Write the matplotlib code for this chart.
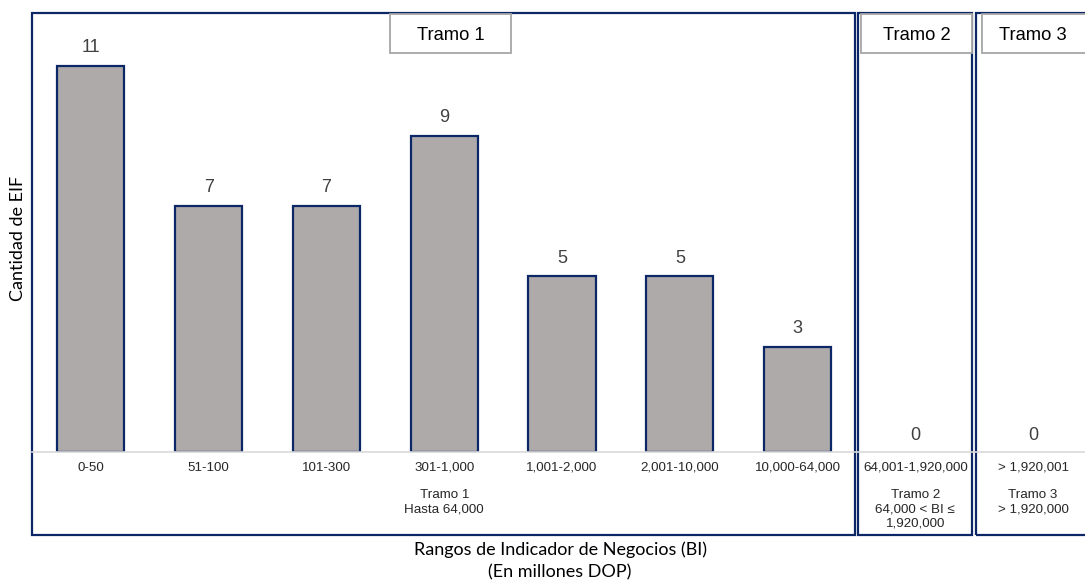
import matplotlib.pyplot as plt
from matplotlib.patches import Rectangle
import matplotlib.transforms as mtransforms
import numpy as np

# conteo de entidades por rango del indicador de negocios
rangos = ["0-50", "51-100", "101-300", "301-1,000", "1,001-2,000",
          "2,001-10,000", "10,000-64,000", "64,001-1,920,000", "> 1,920,001"]
cantidad = [11, 7, 7, 9, 5, 5, 3, 0, 0]

tramos = ["Tramo 1", "Tramo 2", "Tramo 3"]
tramo_desc = ["Tramo 1\nHasta 64,000",
              "Tramo 2\n64,000 < BI \u2264\n1,920,000",
              "Tramo 3\n> 1,920,000"]
desc_pos = [3, 7, 8]

navy = "#0B2766"
barra = "#AEAAAA"
W, H = 1085, 581

plt.rcParams['font.family'] = ['Liberation Sans', 'DejaVu Sans']
fig = plt.figure(figsize=(W / 100, H / 100), dpi=100)
ax = fig.add_axes([32 / W, (H - 452) / H, (W - 32) / W, (452 - 13) / H])

x = np.arange(len(rangos))
bars = ax.bar(x, cantidad, width=0.57, color=barra, edgecolor=navy, linewidth=1.6)
for b, v in zip(bars, cantidad):
    if v == 0:
        b.set_linewidth(0)
    ax.annotate(str(v), (b.get_x() + b.get_width() / 2, v),
                xytext=(0, 7 if v else 6), textcoords="offset points",
                ha="center", va="bottom", fontsize=13, color="#404040")

ax.set_xlim(-0.5, 8.44)
ax.set_ylim(0, 12.5)
ax.set_yticks([])
ax.set_xticks(x)
ax.set_xticklabels(rangos, fontsize=9.6, color="#262626")
ax.tick_params(axis="x", length=0, pad=7)
for s in ["left", "right", "top"]:
    ax.spines[s].set_visible(False)
ax.spines["bottom"].set_color("#D9D9D9")
ax.spines["bottom"].set_linewidth(1.2)

# marcos de cada tramo
trans = mtransforms.blended_transform_factory(ax.transData, ax.transAxes)
y_bot = (452 - 535) / (452 - 13)
marcos = [(-0.5, 6.49), (6.515, 7.48), (7.515, 9.5)]
for (x0, x1), desc, pos in zip(marcos, tramo_desc, desc_pos):
    ax.add_patch(Rectangle((x0, y_bot), x1 - x0, 1 - y_bot, transform=trans,
                           fill=False, edgecolor=navy, linewidth=1.6, clip_on=False))
    ax.text(pos, -0.085, desc, transform=trans, ha="center", va="top",
            fontsize=9.6, color="#262626", linespacing=1.25)

# recuadros de titulo de cada tramo (en pixeles de figura)
titulos = [(390, 511), (861, 972), (982, 1095)]
for (px0, px1), nombre in zip(titulos, tramos):
    fig.add_artist(Rectangle((px0 / W, 1 - 53 / H), (px1 - px0) / W, 39 / H,
                             transform=fig.transFigure, fc="white",
                             ec="#A6A6A6", lw=1.3))
    cx = (px0 + px1) / 2 if px1 <= W else 1033
    fig.text(cx / W, 1 - 34 / H, nombre, ha="center", va="center_baseline",
             fontsize=13.2, color="black")

fig.text(18 / W, 1 - 238 / H, "Cantidad de EIF", rotation=90, ha="center",
         va="center", fontsize=13, family=["Lato", "DejaVu Sans"])
fig.text(560 / W, 1 - 561 / H, "Rangos de Indicador de Negocios (BI)\n(En millones DOP)",
         ha="center", va="center", fontsize=13, family=["Lato", "DejaVu Sans"],
         linespacing=1.45)

fig.savefig("out.png", dpi=100)
